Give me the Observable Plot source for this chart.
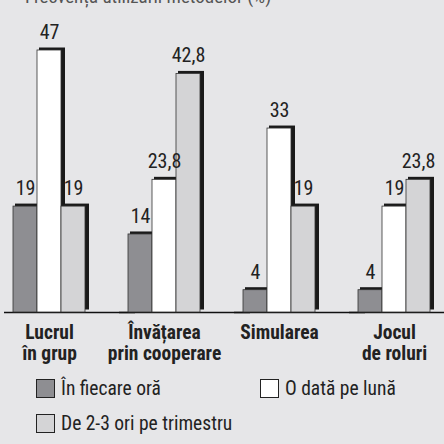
<!DOCTYPE html>
<html>
<head>
<meta charset="utf-8">
<script src="https://cdn.jsdelivr.net/npm/d3@7"></script>
<script src="https://cdn.jsdelivr.net/npm/@observablehq/plot@0.6"></script>
<style>
  html, body { margin: 0; padding: 0; background: #e6e6e8; overflow: hidden; }
  body { width: 444px; height: 444px; position: relative;
         font-family: "Liberation Sans Narrow", "Roboto Condensed", "DejaVu Sans Condensed", "Liberation Sans", sans-serif; }
  #title { position: absolute; left: 25px; top: -15px; font-size: 19px; color: #555; white-space: nowrap; }
  #chart { position: absolute; left: 0; top: 0; }
  .legend { position: absolute; font-size: 19.5px; color: #222; display: flex; align-items: center; white-space: nowrap; }
  .sw { width: 17px; height: 17px; border: 1.5px solid #222; margin-right: 6px; box-sizing: content-box; }
</style>
</head>
<body>
<div id="title">Frecvența utilizării metodelor (%)</div>
<div id="chart"></div>
<div class="legend" style="left:36px; top:377px;"><div class="sw" style="background:#8e8e92"></div>În fiecare oră</div>
<div class="legend" style="left:260px; top:377px;"><div class="sw" style="background:#ffffff"></div>O dată pe lună</div>
<div class="legend" style="left:36px; top:412px;"><div class="sw" style="background:#d4d4d6"></div>De 2-3 ori pe trimestru</div>
<script>
const categories = ["Lucrul\nîn grup", "Învățarea\nprin cooperare", "Simularea", "Jocul\nde roluri"];
const series = ["În fiecare oră", "O dată pe lună", "De 2-3 ori pe trimestru"];
const seriesColors = ["#8e8e92", "#ffffff", "#d4d4d6"];
const valOra = [19, 14, 4, 4];
const valLuna = [47, 23.8, 33, 19];
const valTrim = [19, 42.8, 19, 23.8];

const allValues = [valOra, valLuna, valTrim];
const data = [];
categories.forEach((c, i) => {
  series.forEach((s, j) => data.push({cat: c, series: s, value: allValues[j][i]}));
});
const fmt = v => String(v).replace(".", ",");

const chart = Plot.plot({
  width: 444,
  height: 366,
  marginTop: 50,
  marginBottom: 54,
  marginLeft: 13,
  marginRight: 14,
  style: {background: "transparent", fontFamily: "\"Liberation Sans Narrow\", \"Roboto Condensed\", \"DejaVu Sans Condensed\", sans-serif"},
  fx: {domain: categories, paddingInner: 0.374, paddingOuter: 0, axis: null},
  x: {domain: series, padding: 0, axis: null},
  y: {domain: [0, 47], axis: null},
  color: {domain: series, range: seriesColors},
  marks: [
    Plot.ruleY([0], {stroke: "#111", strokeWidth: 1.5, insetLeft: -9, insetRight: -50}),
    Plot.barY(data, {fx: "cat", x: "series", y: "value", fill: "#1a1a1a", dx: 4, dy: -2.5, insetLeft: -2}),
    Plot.barY(data, {fx: "cat", x: "series", y: "value", fill: "series", stroke: "#333", strokeWidth: 0.8}),
    Plot.text(data, {fx: "cat", x: "series", y: "value", text: d => fmt(d.value), dy: -18, fontSize: 20, fill: "#222"}),
    Plot.text(categories, {fx: d => d, text: d => d, frameAnchor: "bottom", lineAnchor: "top", dy: 11, fontSize: 19.5, fontWeight: "bold", lineHeight: 1.1, fill: "#222"})
  ]
});
document.getElementById("chart").appendChild(chart);
</script>
</body>
</html>
